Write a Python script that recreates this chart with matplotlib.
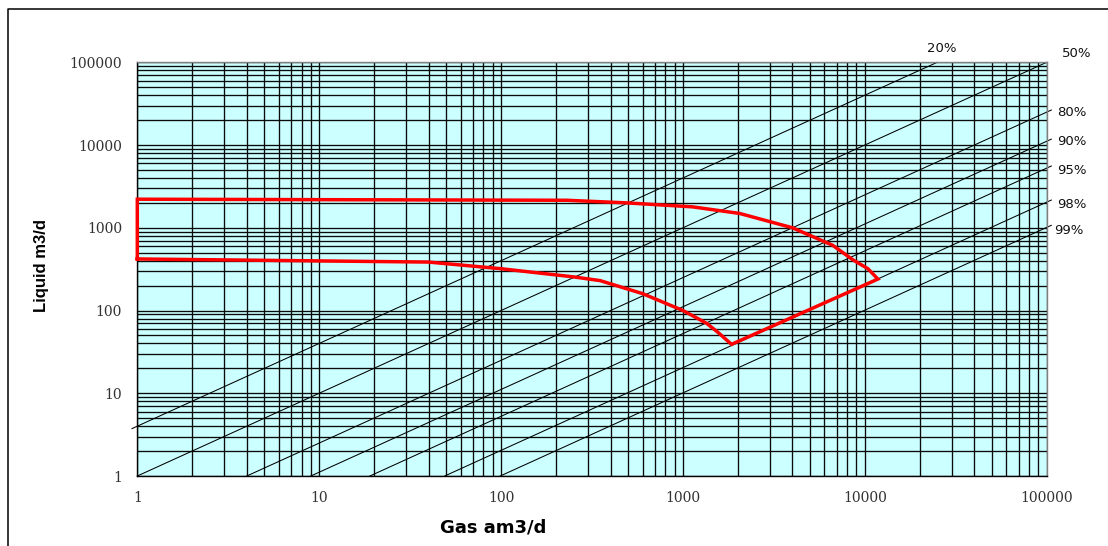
import matplotlib
matplotlib.use("Agg")
import matplotlib.pyplot as plt
from matplotlib.ticker import LogLocator, NullFormatter, FixedLocator, FixedFormatter
from matplotlib.lines import Line2D
import numpy as np

# ---- data ----
x_ticks = [1, 10, 100, 1000, 10000, 100000]
x_tick_labels = ["1", "10", "100", "1000", "10000", "100000"]
y_ticks = [1, 10, 100, 1000, 10000, 100000]
y_tick_labels = ["1", "10", "100", "1000", "10000", "100000"]

gvf_percent = [20, 50, 80, 90, 95, 98, 99]
gvf_labels = ["20%", "50%", "80%", "90%", "95%", "98%", "99%"]

envelope_gas = [1, 40, 100, 250, 350, 600, 1000, 1350, 1550, 1850,
                11800, 10400, 8600, 6650, 4000, 2050, 1130, 490, 230, 1, 1]
envelope_liquid = [420, 385, 320, 255, 230, 160, 100, 70, 55, 39,
                   240, 320, 410, 615, 1000, 1490, 1790, 2000, 2150, 2215, 420]

x_label = "Gas am3/d"
y_label = "Liquid m3/d"

# ---- figure ----
W, H = 1108, 546
fig = plt.figure(figsize=(W / 100, H / 100), dpi=100)
fig.patch.set_facecolor("white")

L, R, T, B = 137.3, 1046.7, 62.3, 476.0
ax = fig.add_axes([L / W, 1 - B / H, (R - L) / W, (B - T) / H])
ax.set_facecolor("#CCFFFF")
ax.set_xscale("log")
ax.set_yscale("log")
ax.set_xlim(1, 1e5)
ax.set_ylim(1, 1e5)

# grid
for axis in (ax.xaxis, ax.yaxis):
    axis.set_minor_locator(LogLocator(base=10, subs=np.arange(2, 10)))
    axis.set_minor_formatter(NullFormatter())
ax.grid(True, which="both", color="#0a0a0a", linewidth=0.95)
ax.set_axisbelow(True)

ax.xaxis.set_major_locator(FixedLocator(x_ticks))
ax.xaxis.set_major_formatter(FixedFormatter(x_tick_labels))
ax.yaxis.set_major_locator(FixedLocator(y_ticks))
ax.yaxis.set_major_formatter(FixedFormatter(y_tick_labels))
ax.tick_params(which="both", length=0)
ax.tick_params(axis="x", pad=11)
ax.tick_params(axis="y", pad=11)
for lab in ax.get_xticklabels() + ax.get_yticklabels():
    lab.set_fontfamily("DejaVu Serif")
    lab.set_fontsize(10)
    lab.set_color("#333333")

for side in ("top", "right"):
    ax.spines[side].set_color("#808080")
    ax.spines[side].set_linewidth(1.0)
for side in ("bottom", "left"):
    ax.spines[side].set_color("black")
    ax.spines[side].set_linewidth(1.0)

# GVF lines: L = G * (1 - f) / f
g_min, g_max = 0.935, 1.06e5
label_offsets = {
    "20%": (3, 10, "center"),
    "50%": (11, 6, "left"),
    "80%": (4, -2, "left"),
    "90%": (4, -2, "left"),
    "95%": (4, -3, "left"),
    "98%": (4, -3, "left"),
    "99%": (2, -4, "left"),
}
for pct, lab in zip(gvf_percent, gvf_labels):
    f = pct / 100.0
    ratio = (1 - f) / f
    g0 = max(g_min, 1.0 / ratio)
    g1 = min(g_max, 1e5 / ratio)
    gs = np.array([g0, g1])
    ax.plot(gs, gs * ratio, color="black", linewidth=0.75, zorder=2,
            clip_on=False)
    dx, dy, ha = label_offsets[lab]
    ax.annotate(lab, xy=(g1, g1 * ratio), xytext=(dx, dy),
                textcoords="offset points", ha=ha, va="center",
                fontsize=9.5, family="DejaVu Sans", color="#111111",
                annotation_clip=False)

# operating envelope
ax.plot(envelope_gas, envelope_liquid, color="#FF0000", linewidth=2.5,
        zorder=3, solid_joinstyle="miter", clip_on=False)

# axis labels
fig.text(492.7 / W, 1 - 527 / H, x_label, ha="center", va="center",
         fontsize=13, fontweight="bold", family="DejaVu Sans")
fig.text(41.5 / W, 1 - 265.5 / H, y_label, ha="center", va="center",
         rotation=90, fontsize=12, fontweight="bold", family="Liberation Sans")

# outer frame (top and left visible)
fig.add_artist(Line2D([8 / W, 8 / W, 1.01], [-0.01, 1 - 9 / H, 1 - 9 / H],
                      transform=fig.transFigure, color="black", linewidth=1.1))

fig.savefig("out.png", dpi=100)
